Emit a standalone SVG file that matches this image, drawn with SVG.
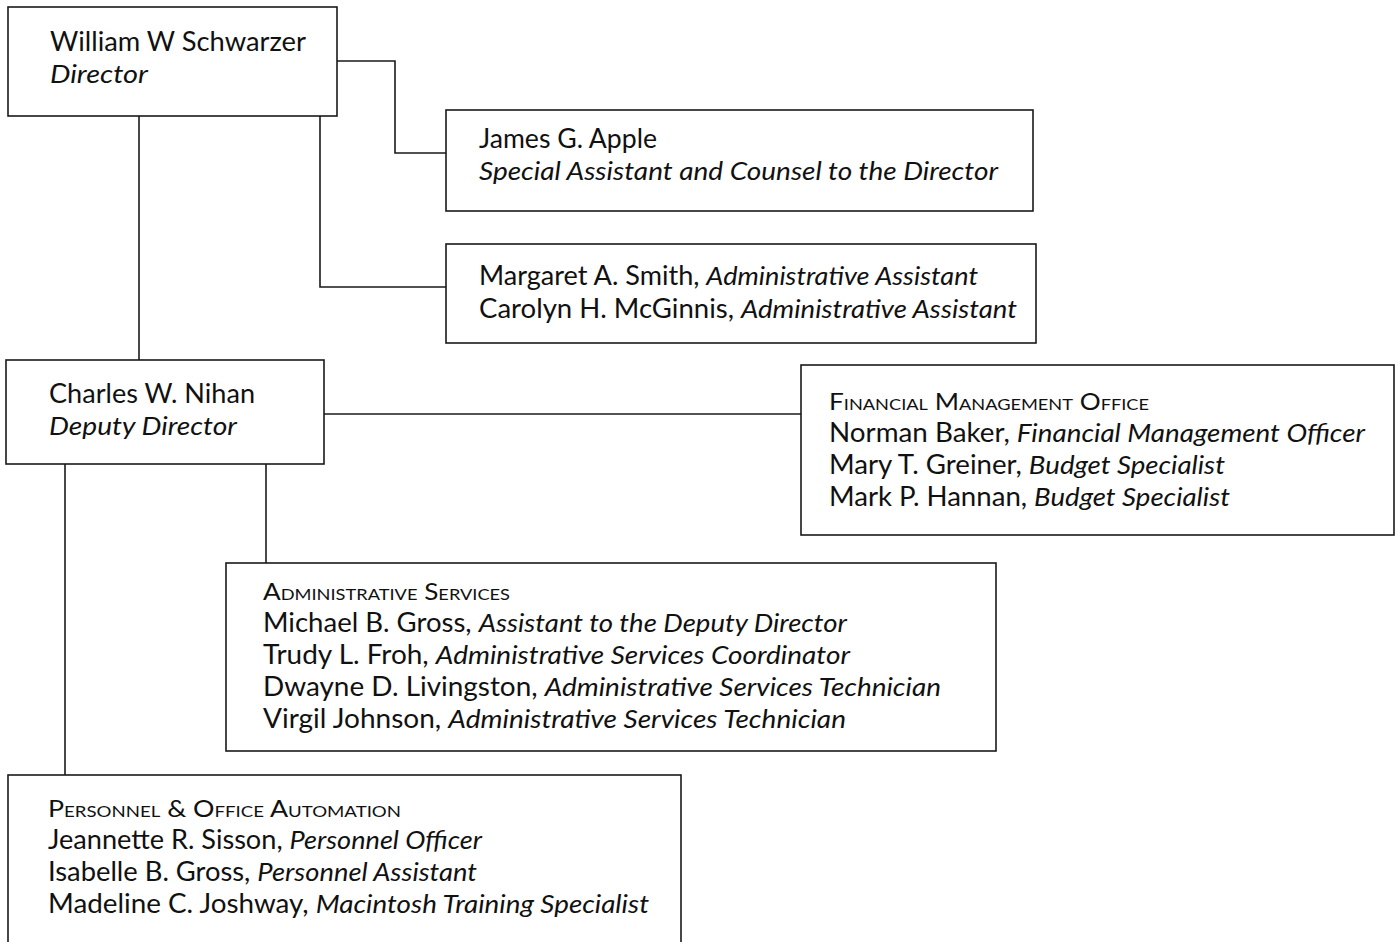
<svg xmlns="http://www.w3.org/2000/svg" width="1398" height="942" viewBox="0 0 1398 942">
<style>
.box{fill:#fff;stroke:#1a1a1a;stroke-width:1.6}
.ln{fill:none;stroke:#1a1a1a;stroke-width:1.6}
text{font-family:Lato,"Noto Sans",sans-serif;font-size:26px;fill:#111}
.i{font-style:italic}
.sc{font-variant:small-caps;font-size:23px}
</style>
<rect width="1398" height="942" fill="#fff"/>
<g id="connectors">
<path class="ln" d="M337 61 H395 V153 H446"/>
<path class="ln" d="M320 116 V287 H446"/>
<path class="ln" d="M139 116 V360"/>
<path class="ln" d="M324 414 H801"/>
<path class="ln" d="M266 464 V563"/>
<path class="ln" d="M65 464 V775"/>
</g>
<g id="director">
<rect class="box" x="8" y="7" width="329" height="109"/>
<text x="50" y="51" textLength="256" lengthAdjust="spacingAndGlyphs">William W Schwarzer</text>
<text x="50" y="83" class="i" textLength="98" lengthAdjust="spacingAndGlyphs">Director</text>
</g>
<g id="apple">
<rect class="box" x="446" y="110" width="587" height="101"/>
<text x="479" y="148" textLength="178" lengthAdjust="spacingAndGlyphs">James G. Apple</text>
<text x="479" y="180" class="i" textLength="519" lengthAdjust="spacingAndGlyphs">Special Assistant and Counsel to the Director</text>
</g>
<g id="assistants">
<rect class="box" x="446" y="244" width="590" height="99"/>
<text x="479" y="285" textLength="499" lengthAdjust="spacingAndGlyphs">Margaret A. Smith, <tspan class="i">Administrative Assistant</tspan></text>
<text x="479" y="318" textLength="538" lengthAdjust="spacingAndGlyphs">Carolyn H. McGinnis, <tspan class="i">Administrative Assistant</tspan></text>
</g>
<g id="deputy">
<rect class="box" x="6" y="360" width="318" height="104"/>
<text x="49" y="403" textLength="206" lengthAdjust="spacingAndGlyphs">Charles W. Nihan</text>
<text x="49" y="435" class="i" textLength="188" lengthAdjust="spacingAndGlyphs">Deputy Director</text>
</g>
<g id="fmo">
<rect class="box" x="801" y="365" width="593" height="170"/>
<text x="829" y="410" class="sc" textLength="320" lengthAdjust="spacingAndGlyphs">Financial Management Office</text>
<text x="829" y="442" textLength="536" lengthAdjust="spacingAndGlyphs">Norman Baker, <tspan class="i">Financial Management Officer</tspan></text>
<text x="829" y="474" textLength="396" lengthAdjust="spacingAndGlyphs">Mary T. Greiner, <tspan class="i">Budget Specialist</tspan></text>
<text x="829" y="506" textLength="401" lengthAdjust="spacingAndGlyphs">Mark P. Hannan, <tspan class="i">Budget Specialist</tspan></text>
</g>
<g id="admin">
<rect class="box" x="226" y="563" width="770" height="188"/>
<text x="263" y="600" class="sc" textLength="247" lengthAdjust="spacingAndGlyphs">Administrative Services</text>
<text x="263" y="632" textLength="584" lengthAdjust="spacingAndGlyphs">Michael B. Gross, <tspan class="i">Assistant to the Deputy Director</tspan></text>
<text x="263" y="664" textLength="587" lengthAdjust="spacingAndGlyphs">Trudy L. Froh, <tspan class="i">Administrative Services Coordinator</tspan></text>
<text x="263" y="696" textLength="678" lengthAdjust="spacingAndGlyphs">Dwayne D. Livingston, <tspan class="i">Administrative Services Technician</tspan></text>
<text x="263" y="728" textLength="583" lengthAdjust="spacingAndGlyphs">Virgil Johnson, <tspan class="i">Administrative Services Technician</tspan></text>
</g>
<g id="personnel">
<rect class="box" x="8" y="775" width="673" height="180"/>
<text x="48" y="817" class="sc" textLength="353" lengthAdjust="spacingAndGlyphs">Personnel &amp; Office Automation</text>
<text x="48" y="849" textLength="434" lengthAdjust="spacingAndGlyphs">Jeannette R. Sisson, <tspan class="i">Personnel Officer</tspan></text>
<text x="48" y="881" textLength="429" lengthAdjust="spacingAndGlyphs">Isabelle B. Gross, <tspan class="i">Personnel Assistant</tspan></text>
<text x="48" y="913" textLength="601" lengthAdjust="spacingAndGlyphs">Madeline C. Joshway, <tspan class="i">Macintosh Training Specialist</tspan></text>
</g>
</svg>
